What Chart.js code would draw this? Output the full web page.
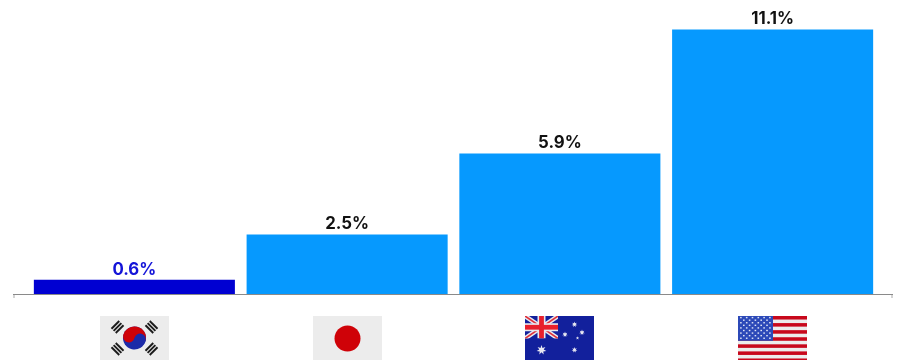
<!DOCTYPE html>
<html>
<head>
<meta charset="utf-8">
<style>
html,body{margin:0;padding:0;background:#fff}
#wrap{width:899px;height:360px;position:relative}
</style>
<script src="https://cdn.jsdelivr.net/npm/chart.js@4/dist/chart.umd.min.js"></script>
</head>
<body>
<div id="wrap"><canvas id="c" width="899" height="360"></canvas></div>
<script>
const categories = ['South Korea', 'Japan', 'Australia', 'United States'];
const flagCodes = ['kr', 'jp', 'au', 'us'];
const shares = [0.6, 2.5, 5.9, 11.1];
const barColors = ['#0000D2', '#0699FE', '#0699FE', '#0699FE'];
const labelColors = ['#1414D8', '#111111', '#111111', '#111111'];

const FLAG_W = 69, FLAG_H = 46, FLAG_TOP = 316;

function star(ctx, x, y, r, points, inner, color) {
  ctx.fillStyle = color;
  ctx.beginPath();
  for (let i = 0; i < points * 2; i++) {
    const rad = i % 2 ? r * inner : r;
    const a = -Math.PI / 2 + i * Math.PI / points;
    ctx.lineTo(x + Math.cos(a) * rad, y + Math.sin(a) * rad);
  }
  ctx.closePath();
  ctx.fill();
}

function trigram(ctx, cx, cy, angle) {
  ctx.save();
  ctx.translate(cx, cy);
  ctx.rotate(angle);
  ctx.fillStyle = '#1c1c1c';
  for (let i = -1; i <= 1; i++) ctx.fillRect(i * 3 - 0.95, -5.5, 1.9, 11);
  ctx.restore();
}

const flags = {
  kr(ctx) {
    ctx.fillStyle = '#ececec';
    ctx.fillRect(0, 0, FLAG_W, FLAG_H);
    const cx = 34.5, cy = 22, r = 11.5, tilt = 0.22;
    ctx.save();
    ctx.translate(cx, cy);
    ctx.rotate(tilt);
    ctx.fillStyle = '#1c2aa8';
    ctx.beginPath(); ctx.arc(0, 0, r, 0, Math.PI * 2); ctx.fill();
    ctx.fillStyle = '#cf0208';
    ctx.beginPath(); ctx.arc(0, 0, r, Math.PI, Math.PI * 2); ctx.fill();
    ctx.beginPath(); ctx.arc(-r / 2, 0, r / 2, 0, Math.PI * 2); ctx.fill();
    ctx.fillStyle = '#1c2aa8';
    ctx.beginPath(); ctx.arc(r / 2, 0, r / 2, 0, Math.PI * 2); ctx.fill();
    ctx.restore();
    trigram(ctx, 17.5, 11, Math.PI / 4);
    trigram(ctx, 51.5, 11, -Math.PI / 4);
    trigram(ctx, 17.5, 33, -Math.PI / 4);
    trigram(ctx, 51.5, 33, Math.PI / 4);
  },
  jp(ctx) {
    ctx.fillStyle = '#ececec';
    ctx.fillRect(0, 0, FLAG_W, FLAG_H);
    ctx.fillStyle = '#cf0208';
    ctx.beginPath(); ctx.arc(34.5, 22.5, 13, 0, Math.PI * 2); ctx.fill();
  },
  au(ctx) {
    ctx.fillStyle = '#12209c';
    ctx.fillRect(0, 0, FLAG_W, FLAG_H);
    const w = 33, h = 22.5;
    ctx.save();
    ctx.beginPath(); ctx.rect(0, 0, w, h); ctx.clip();
    ctx.strokeStyle = '#e8e8ee'; ctx.lineWidth = 4.5;
    ctx.beginPath(); ctx.moveTo(0, 0); ctx.lineTo(w, h); ctx.moveTo(w, 0); ctx.lineTo(0, h); ctx.stroke();
    ctx.strokeStyle = '#e0303a'; ctx.lineWidth = 1.6;
    ctx.beginPath(); ctx.moveTo(0, 0); ctx.lineTo(w, h); ctx.moveTo(w, 0); ctx.lineTo(0, h); ctx.stroke();
    ctx.fillStyle = '#e8e8ee';
    ctx.fillRect(w / 2 - 4, 0, 8, h); ctx.fillRect(0, h / 2 - 4, w, 8);
    ctx.fillStyle = '#e8202c';
    ctx.fillRect(w / 2 - 2.4, 0, 4.8, h); ctx.fillRect(0, h / 2 - 2.4, w, 4.8);
    ctx.restore();
    const white = '#e8e8f2';
    star(ctx, 16.5, 34, 5, 7, 0.45, white);
    star(ctx, 49.5, 8.5, 2.9, 7, 0.45, white);
    star(ctx, 40, 18.5, 2.9, 7, 0.45, white);
    star(ctx, 57, 16.5, 2.9, 7, 0.45, white);
    star(ctx, 52.5, 22, 1.7, 5, 0.45, white);
    star(ctx, 49.5, 34, 2.9, 7, 0.45, white);
  },
  us(ctx) {
    ctx.fillStyle = '#ececec';
    ctx.fillRect(0, 0, FLAG_W, FLAG_H);
    const stripe = 3.54;
    ctx.fillStyle = '#c8081c';
    for (let i = 0; i < 13; i += 2) ctx.fillRect(0, i * stripe, FLAG_W, stripe);
    ctx.fillStyle = '#2c49b8';
    ctx.fillRect(0, 0, 35, stripe * 7);
    ctx.fillStyle = '#dfe4f6';
    for (let row = 0; row < 9; row++) {
      const odd = row % 2 === 1;
      const count = odd ? 5 : 6;
      for (let col = 0; col < count; col++) {
        const x = (odd ? 5.8 : 2.9) + col * 5.8;
        ctx.fillRect(x - 0.8, 1.6 + row * 2.58 - 0.7, 1.6, 1.4);
      }
    }
  }
};

// Baseline rule with small end caps, running past the plot area on both sides.
const baselinePlugin = {
  id: 'baseline',
  afterDatasetsDraw(chart) {
    const { ctx, scales } = chart;
    const y = Math.round(scales.y.getPixelForValue(0));
    ctx.save();
    ctx.fillStyle = '#d4d4d4';
    ctx.fillRect(13, y, 2, 4);
    ctx.fillRect(891, y, 2, 4);
    ctx.fillStyle = '#8a8a8a';
    ctx.fillRect(13, y, 880, 1);
    ctx.restore();
  }
};

// Percentage labels above each bar.
const valueLabelPlugin = {
  id: 'valueLabels',
  afterDatasetsDraw(chart) {
    const { ctx } = chart;
    const meta = chart.getDatasetMeta(0);
    ctx.save();
    ctx.font = '700 16.8px Inter, "Noto Sans", sans-serif';
    ctx.textAlign = 'center';
    ctx.textBaseline = 'alphabetic';
    meta.data.forEach((bar, i) => {
      ctx.fillStyle = labelColors[i];
      ctx.fillText(shares[i].toFixed(1) + '%', bar.x, bar.y - 5);
    });
    ctx.restore();
  }
};

// Country flags sit below the baseline, centred on their category.
const flagPlugin = {
  id: 'flagTicks',
  afterDraw(chart) {
    const { ctx, scales } = chart;
    flagCodes.forEach((code, i) => {
      const cx = scales.x.getPixelForValue(i);
      ctx.save();
      ctx.translate(Math.round(cx - FLAG_W / 2), FLAG_TOP);
      ctx.beginPath(); ctx.rect(0, 0, FLAG_W, FLAG_H); ctx.clip();
      flags[code](ctx);
      ctx.restore();
    });
  }
};

new Chart(document.getElementById('c'), {
  type: 'bar',
  data: {
    labels: categories,
    datasets: [{
      data: shares,
      backgroundColor: barColors,
      borderWidth: 0,
      barPercentage: 0.945,
      categoryPercentage: 1
    }]
  },
  options: {
    responsive: false,
    animation: false,
    events: [],
    layout: { padding: { left: 28, right: 20, top: 8, bottom: 66 } },
    plugins: { legend: { display: false }, tooltip: { enabled: false } },
    scales: {
      x: { display: false },
      y: { display: false, min: 0, max: 12 }
    }
  },
  plugins: [baselinePlugin, valueLabelPlugin, flagPlugin]
});
</script>
</body>
</html>
